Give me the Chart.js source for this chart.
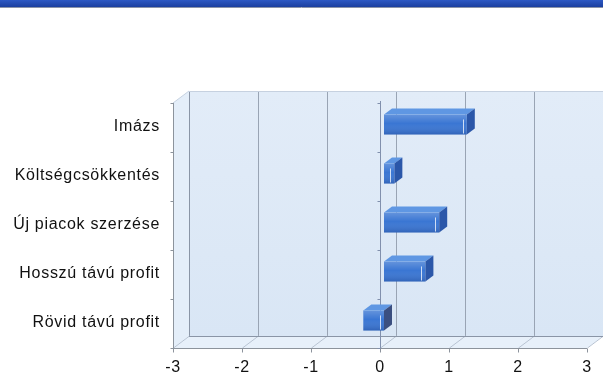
<!DOCTYPE html>
<html>
<head>
<meta charset="utf-8">
<script src="https://cdn.jsdelivr.net/npm/chart.js@4"></script>
<style>
  body { margin: 0; background: #fff; }
  #wrap { width: 603px; height: 382px; }
</style>
</head>
<body>
<div id="wrap"><canvas id="myChart" width="603" height="382"></canvas></div>
<script>
// adatok
var categories = ["Imázs", "Költségcsökkentés", "Új piacok szerzése", "Hosszú távú profit", "Rövid távú profit"];
var values = [1.2, 0.15, 0.8, 0.6, -0.3];
var xTicks = [-3, -2, -1, 0, 1, 2, 3];

// 3D box depth, bar offset and bar depth
var DX = 16, DY = -12;
var BX = 4, BY = -3;
var BDX = 8, BDY = -6;

function poly(ctx, pts, fill, stroke) {
  ctx.beginPath();
  ctx.moveTo(pts[0][0], pts[0][1]);
  for (var i = 1; i < pts.length; i++) ctx.lineTo(pts[i][0], pts[i][1]);
  ctx.closePath();
  if (fill) { ctx.fillStyle = fill; ctx.fill(); }
  if (stroke) { ctx.strokeStyle = stroke; ctx.lineWidth = 1; ctx.stroke(); }
}

function line(ctx, x1, y1, x2, y2, color) {
  ctx.beginPath();
  ctx.moveTo(x1, y1);
  ctx.lineTo(x2, y2);
  ctx.strokeStyle = color;
  ctx.lineWidth = 1;
  ctx.stroke();
}

var box3d = {
  id: 'box3d',
  beforeDraw: function(chart) {
    var ctx = chart.ctx, a = chart.chartArea;
    var xs = chart.scales.x, ys = chart.scales.y;
    var L = a.left, R = a.right, T = a.top, B = a.bottom;
    ctx.save();

    // blue band on top
    var g = ctx.createLinearGradient(0, 0, 0, 7);
    g.addColorStop(0, '#2d58c4');
    g.addColorStop(1, '#1b3f9f');
    ctx.fillStyle = g;
    ctx.fillRect(0, 0, chart.width, 7);
    line(ctx, 0, 7.5, chart.width, 7.5, '#8a93a8');

    // side wall, floor, back wall
    poly(ctx, [[L, T], [L + DX, T + DY], [L + DX, B + DY], [L, B]], '#e4eef9');
    poly(ctx, [[L, B], [L + DX, B + DY], [R + DX, B + DY], [R, B]], '#e7f0fa');
    var gw = ctx.createLinearGradient(0, T + DY, 0, B + DY);
    gw.addColorStop(0, '#e2ecf8');
    gw.addColorStop(1, '#d9e6f5');
    ctx.fillStyle = gw;
    ctx.fillRect(L + DX, T + DY, R - L, B - T);

    // back grid lines and floor diagonals
    for (var i = 0; i < xTicks.length; i++) {
      var px = Math.round(xs.getPixelForValue(xTicks[i])) + 0.5;
      var col = (i == 0) ? '#8a95a6' : (i == xTicks.length - 1 ? '#c4d0e0' : '#99a4b4');
      line(ctx, px + DX, T + DY, px + DX, B + DY, col);
      line(ctx, px, B, px + DX, B + DY, '#b9c4d3');
    }
    line(ctx, L + DX, Math.round(B + DY) + 0.5, R + DX, Math.round(B + DY) + 0.5, '#8a95a6');
    line(ctx, L + DX, Math.round(T + DY) + 0.5, R + DX, Math.round(T + DY) + 0.5, '#c6d1e0');
    line(ctx, L, T, L + DX, T + DY, '#c6d1e0');

    // front axes
    var lx = Math.round(L) + 0.5, by = Math.round(B) + 0.5;
    line(ctx, lx, T, lx, by, '#8c939c');
    line(ctx, L, by, R, by, '#8c939c');
    for (var j = 0; j <= categories.length; j++) {
      var py = Math.round(ys.getPixelForValue(j - 0.5)) + 0.5;
      line(ctx, lx - 3, py, lx, py, '#8c939c');
    }
    for (var k = 0; k < xTicks.length; k++) {
      var tx = Math.round(xs.getPixelForValue(xTicks[k])) + 0.5;
      line(ctx, tx, by, tx, by + 4, '#8c939c');
    }

    // zero line on the front plane
    var zx = Math.round(xs.getPixelForValue(0)) + 0.5;
    line(ctx, zx, T - 2, zx, by, '#8190ad');
    for (var m = 0; m <= categories.length; m++) {
      var zy = Math.round(ys.getPixelForValue(m - 0.5)) + 0.5;
      line(ctx, zx - 3, zy, zx, zy, '#8190ad');
    }
    ctx.restore();
    // labels in the picture are a bit spaced out
    ctx.letterSpacing = '0.7px';
  },
  beforeDatasetsDraw: function(chart) {
    chart.ctx.letterSpacing = '0px';
    chart.ctx.save();
    chart.ctx.translate(BX, BY);
  },
  afterDatasetsDraw: function(chart) {
    var ctx = chart.ctx;
    ctx.restore();
    ctx.save();
    var meta = chart.getDatasetMeta(0);
    for (var i = 0; i < meta.data.length; i++) {
      var p = meta.data[i].getProps(['x', 'y', 'base', 'height'], true);
      var x0 = Math.min(p.x, p.base) + BX, x1 = Math.max(p.x, p.base) + BX;
      var top = p.y - p.height / 2 + BY, bot = p.y + p.height / 2 + BY;
      // top and end faces
      poly(ctx, [[x0, top], [x0 + BDX, top + BDY], [x1 + BDX, top + BDY], [x1, top]], '#5f97e3');
      var side = values[i] < 0 ? '#3b4f80' : '#2b57a9';
      poly(ctx, [[x1, top], [x1 + BDX, top + BDY], [x1 + BDX, bot + BDY], [x1, bot]], side);
      // shading on the front face
      var g = ctx.createLinearGradient(0, top, 0, bot);
      g.addColorStop(0, 'rgba(255,255,255,0.22)');
      g.addColorStop(0.45, 'rgba(255,255,255,0)');
      g.addColorStop(1, 'rgba(0,10,60,0.18)');
      ctx.fillStyle = g;
      ctx.fillRect(x0, top, x1 - x0, bot - top);
      if (x1 - x0 > 8) {
        ctx.globalAlpha = 0.75;
        line(ctx, Math.round(x1 - 4) + 0.5, top + 5, Math.round(x1 - 4) + 0.5, bot - 1, '#ffffff');
        ctx.globalAlpha = 1;
      }
    }
    ctx.restore();
  }
};

var font = "'Liberation Sans', Arial, sans-serif";
var ctx = document.getElementById("myChart").getContext("2d");
var myChart = new Chart(ctx, {
  type: 'bar',
  data: {
    labels: categories,
    datasets: [
      { data: values, backgroundColor: '#3a76d3', borderWidth: 0, barPercentage: 0.41, categoryPercentage: 1 }
    ]
  },
  options: {
    indexAxis: 'y',
    responsive: false,
    animation: false,
    layout: { padding: { top: 103, right: 16, left: 0, bottom: 0 } },
    plugins: { legend: { display: false }, tooltip: { enabled: false } },
    scales: {
      x: {
        type: 'linear', min: -3, max: 3,
        ticks: { stepSize: 1, padding: 10, color: '#111', font: { family: font, size: 16 } },
        grid: { display: false, drawTicks: false },
        border: { display: false },
        afterFit: function(s) { s.height = 34; }
      },
      y: {
        ticks: { padding: 13, labelOffset: -1, color: '#111', font: { family: font, size: 16 } },
        grid: { display: false, drawTicks: false },
        border: { display: false },
        afterFit: function(s) { s.width = 173; }
      }
    }
  },
  plugins: [box3d]
});
</script>
</body>
</html>
